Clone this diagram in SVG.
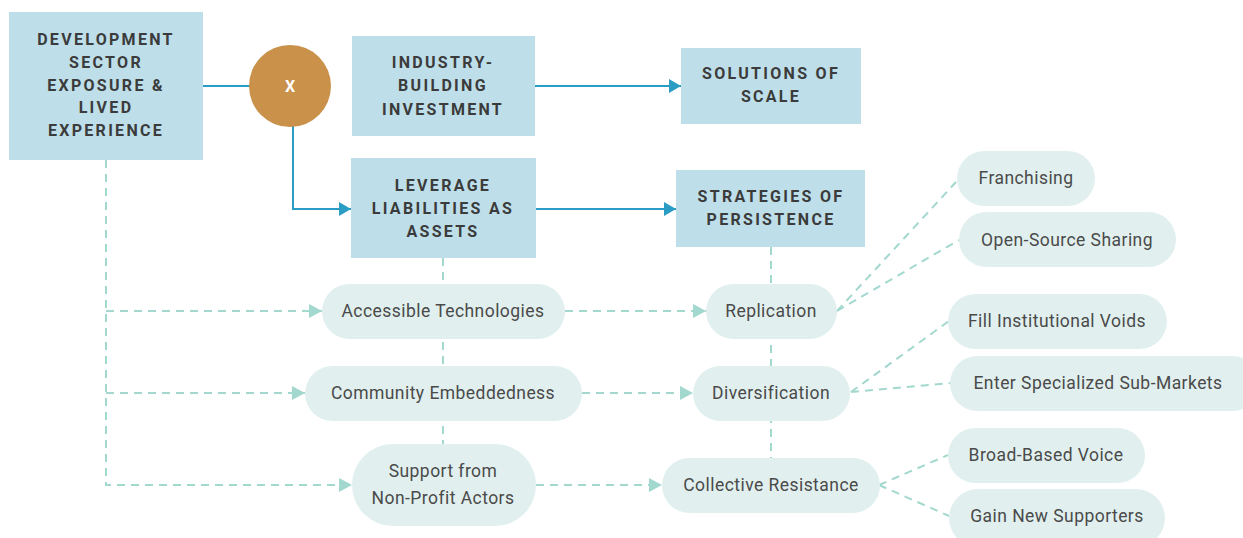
<svg xmlns="http://www.w3.org/2000/svg" width="1243" height="538" viewBox="0 0 1243 538">
  <defs>
    <style>
      .box { fill: #bedfe9; }
      .pill { fill: #e1f0ef; }
      .head { font-family: Roboto, "Liberation Sans", sans-serif; font-weight: 700; font-size: 16px; letter-spacing: 2.3px; fill: #3b3b3b; text-anchor: middle; dominant-baseline: central; }
      .lbl { font-family: Roboto, "Liberation Sans", sans-serif; font-size: 17.5px; letter-spacing: 0.45px; fill: #4a4a4a; text-anchor: middle; dominant-baseline: central; }
      .solid { fill: none; stroke: #2b9cc4; stroke-width: 2; }
      .dash { fill: none; stroke: #a3d8cf; stroke-width: 2; stroke-dasharray: 8 6; }
    </style>
    <marker id="arrowBlue" markerUnits="userSpaceOnUse" markerWidth="12" markerHeight="14" refX="12" refY="7" orient="auto">
      <path d="M0,0 L12,7 L0,14 z" fill="#2b9cc4"/>
    </marker>
    <marker id="arrowMint" markerUnits="userSpaceOnUse" markerWidth="13" markerHeight="14" refX="13" refY="7" orient="auto">
      <path d="M0,0 L13,7 L0,14 z" fill="#a3d8cf"/>
    </marker>
  </defs>

  <!-- connectors -->
  <g id="connectors">
    <!-- solid flows -->
    <path class="solid" d="M203,86 H250"/>
    <path class="solid" d="M293,126 V209 H351" marker-end="url(#arrowBlue)"/>
    <path class="solid" d="M535,86 H681" marker-end="url(#arrowBlue)"/>
    <path class="solid" d="M536,209 H676" marker-end="url(#arrowBlue)"/>

    <!-- left feeder lines -->
    <path class="dash" d="M106,160 V485 H352" marker-end="url(#arrowMint)"/>
    <path class="dash" d="M106,311 H322" marker-end="url(#arrowMint)"/>
    <path class="dash" d="M106,393 H305" marker-end="url(#arrowMint)"/>

    <!-- vertical spines -->
    <path class="dash" d="M443,258 V444"/>
    <path class="dash" d="M771,247 V458"/>

    <!-- middle links -->
    <path class="dash" d="M565,311 H706" marker-end="url(#arrowMint)"/>
    <path class="dash" d="M582,393 H693" marker-end="url(#arrowMint)"/>
    <path class="dash" d="M536,485 H662" marker-end="url(#arrowMint)"/>

    <!-- fan-out links -->
    <path class="dash" d="M837,311 L956,182"/>
    <path class="dash" d="M837,311 L959,240"/>
    <path class="dash" d="M851,392 L949,321"/>
    <path class="dash" d="M851,392 L951,383"/>
    <path class="dash" d="M879,485 L948,455"/>
    <path class="dash" d="M879,485 L949,516"/>
  </g>

  <!-- header boxes -->
  <g id="development-sector">
    <rect class="box" x="9" y="12" width="194" height="148"/>
    <text class="head" x="106" y="39">DEVELOPMENT</text>
    <text class="head" x="106" y="62">SECTOR</text>
    <text class="head" x="106" y="85">EXPOSURE &amp;</text>
    <text class="head" x="106" y="107">LIVED</text>
    <text class="head" x="106" y="130">EXPERIENCE</text>
  </g>

  <g id="multiplier">
    <circle cx="290" cy="86" r="41" fill="#c9914a"/>
    <text class="head" x="290" y="86" style="fill:#ffffff;letter-spacing:0">X</text>
  </g>

  <g id="industry-building">
    <rect class="box" x="352" y="36" width="183" height="100"/>
    <text class="head" x="443" y="62">INDUSTRY-</text>
    <text class="head" x="443" y="85">BUILDING</text>
    <text class="head" x="443" y="109">INVESTMENT</text>
  </g>

  <g id="solutions-of-scale">
    <rect class="box" x="681" y="48" width="180" height="76"/>
    <text class="head" x="771" y="73">SOLUTIONS OF</text>
    <text class="head" x="771" y="96">SCALE</text>
  </g>

  <g id="leverage-liabilities">
    <rect class="box" x="351" y="158" width="185" height="100"/>
    <text class="head" x="443" y="185">LEVERAGE</text>
    <text class="head" x="443" y="208">LIABILITIES AS</text>
    <text class="head" x="443" y="231">ASSETS</text>
  </g>

  <g id="strategies-of-persistence">
    <rect class="box" x="676" y="170" width="189" height="77"/>
    <text class="head" x="771" y="196">STRATEGIES OF</text>
    <text class="head" x="771" y="219">PERSISTENCE</text>
  </g>

  <!-- mechanisms -->
  <g id="accessible-technologies">
    <rect class="pill" x="322" y="284" width="243" height="55" rx="27.5"/>
    <text class="lbl" x="443" y="311">Accessible Technologies</text>
  </g>
  <g id="community-embeddedness">
    <rect class="pill" x="305" y="366" width="277" height="55" rx="27.5"/>
    <text class="lbl" x="443" y="393">Community Embeddedness</text>
  </g>
  <g id="non-profit-support">
    <rect class="pill" x="352" y="444" width="184" height="82" rx="41"/>
    <text class="lbl" x="443" y="471">Support from</text>
    <text class="lbl" x="443" y="498">Non-Profit Actors</text>
  </g>

  <!-- strategies -->
  <g id="replication">
    <rect class="pill" x="706" y="284" width="131" height="55" rx="27.5"/>
    <text class="lbl" x="771" y="311">Replication</text>
  </g>
  <g id="diversification">
    <rect class="pill" x="693" y="366" width="157" height="55" rx="27.5"/>
    <text class="lbl" x="771" y="393">Diversification</text>
  </g>
  <g id="collective-resistance">
    <rect class="pill" x="662" y="458" width="218" height="55" rx="27.5"/>
    <text class="lbl" x="771" y="485">Collective Resistance</text>
  </g>

  <!-- outcomes -->
  <g id="franchising">
    <rect class="pill" x="957" y="151" width="138" height="55" rx="27.5"/>
    <text class="lbl" x="1026" y="178">Franchising</text>
  </g>
  <g id="open-source-sharing">
    <rect class="pill" x="959" y="212" width="217" height="55" rx="27.5"/>
    <text class="lbl" x="1067" y="240">Open-Source Sharing</text>
  </g>
  <g id="fill-institutional-voids">
    <rect class="pill" x="948" y="294" width="219" height="55" rx="27.5"/>
    <text class="lbl" x="1057" y="321">Fill Institutional Voids</text>
  </g>
  <g id="specialized-sub-markets">
    <rect class="pill" x="950" y="356" width="310" height="55" rx="27.5"/>
    <text class="lbl" x="1098" y="383">Enter Specialized Sub-Markets</text>
  </g>
  <g id="broad-based-voice">
    <rect class="pill" x="948" y="428" width="197" height="55" rx="27.5"/>
    <text class="lbl" x="1046" y="455">Broad-Based Voice</text>
  </g>
  <g id="gain-new-supporters">
    <rect class="pill" x="949" y="489" width="216" height="58" rx="29"/>
    <text class="lbl" x="1057" y="516">Gain New Supporters</text>
  </g>
</svg>
